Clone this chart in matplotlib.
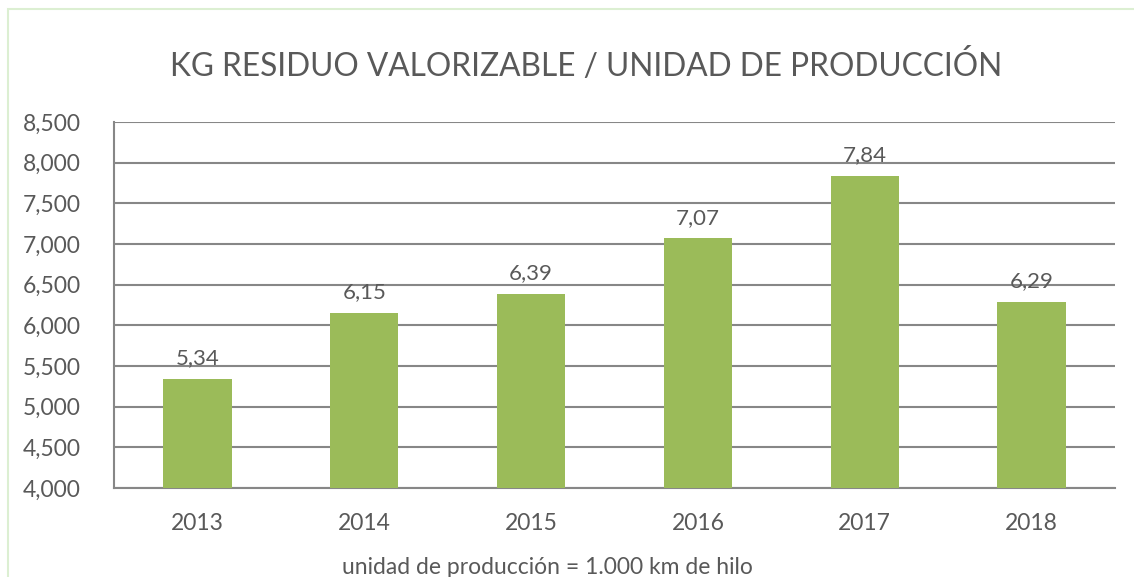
import matplotlib.pyplot as plt

# Datos
anios = ["2013", "2014", "2015", "2016", "2017", "2018"]
kg_residuo = [5.34, 6.15, 6.39, 7.07, 7.84, 6.29]
etiquetas = ["5,34", "6,15", "6,39", "7,07", "7,84", "6,29"]
ticks_y = [4.0, 4.5, 5.0, 5.5, 6.0, 6.5, 7.0, 7.5, 8.0, 8.5]
ticks_y_txt = ["4,000", "4,500", "5,000", "5,500", "6,000", "6,500",
               "7,000", "7,500", "8,000", "8,500"]

plt.rcParams['font.family'] = ['Lato', 'DejaVu Sans']
gris = "#595959"

fig = plt.figure(figsize=(11.34, 5.77), dpi=100)
ax = fig.add_axes([114 / 1134, 1 - 488 / 577, 1001 / 1134, 366 / 577])

x = range(len(anios))
ax.bar(x, kg_residuo, width=0.41, color="#9BBB59", zorder=3)

for i in x:
    ax.text(i, kg_residuo[i] + 0.13, etiquetas[i], ha='center', va='bottom',
            fontsize=16, color=gris)

ax.set_xlim(-0.5, len(anios) - 0.5)
ax.set_ylim(4.0, 8.5)
ax.set_yticks(ticks_y)
ax.set_yticklabels(ticks_y_txt)
ax.set_xticks(list(x))
ax.set_xticklabels(anios)
ax.tick_params(axis='both', length=0, labelsize=16.5, labelcolor=gris)
ax.tick_params(axis='y', pad=24)
ax.tick_params(axis='x', pad=18)
ax.grid(axis='y', color="#878787", linewidth=1.5, zorder=0)

for lado in ["top", "right"]:
    ax.spines[lado].set_visible(False)
ax.spines["left"].set_color("#878787")
ax.spines["bottom"].set_color("#878787")
ax.spines["left"].set_linewidth(1.5)
ax.spines["bottom"].set_linewidth(1.5)

fig.text(586 / 1134, 1 - 66 / 577, "KG RESIDUO VALORIZABLE / UNIDAD DE PRODUCCIÓN",
         ha='center', va='center', fontsize=22.8, color=gris)
fig.text(547 / 1134, 1 - 567 / 577, "unidad de producción = 1.000 km de hilo",
         ha='center', va='center', fontsize=16.5, color=gris)

# borde del gráfico
borde = plt.Rectangle((8 / 1134, -0.1), 1.2, 1 - 9 / 577 + 0.1, transform=fig.transFigure,
                      fill=False, edgecolor="#DCEFD2", linewidth=1.5)
fig.add_artist(borde)

fig.savefig("out.png", dpi=100)
